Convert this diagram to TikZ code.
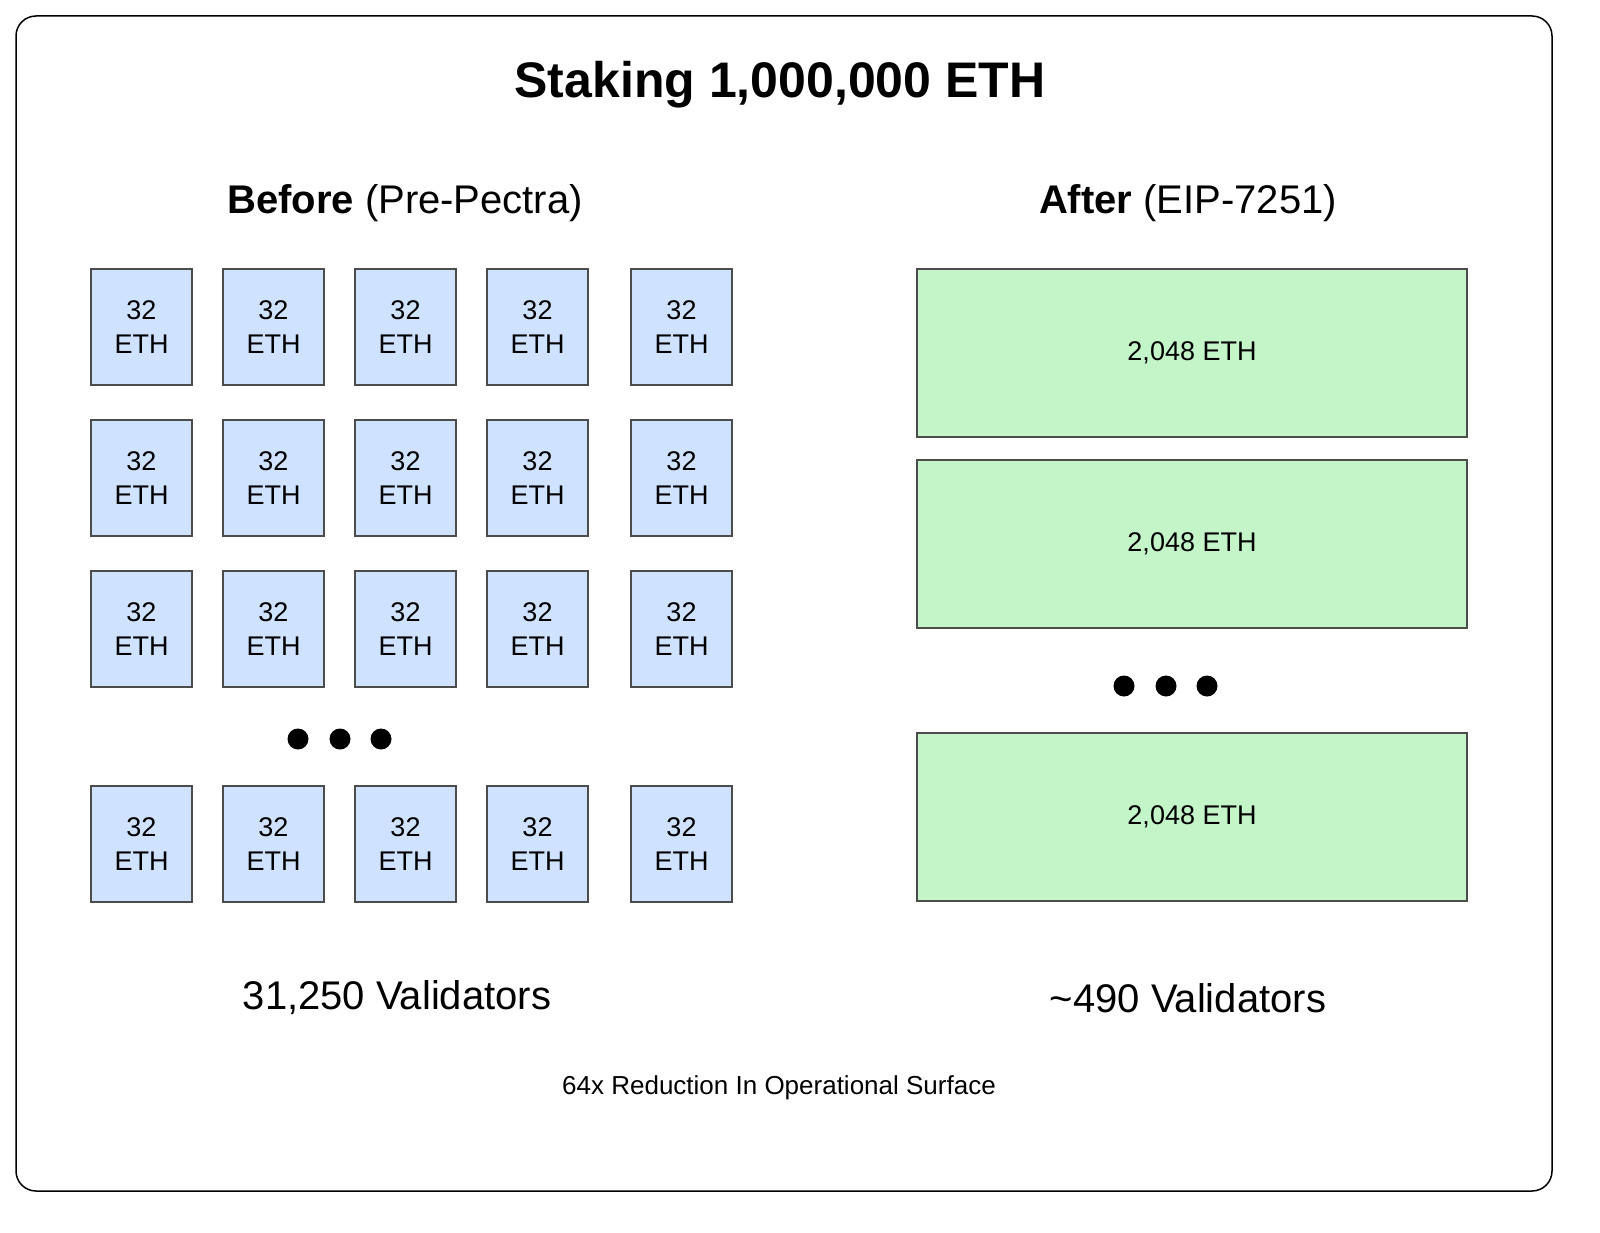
\documentclass[tikz,border=0pt]{standalone}
\usepackage{fontspec}
\setmainfont{Liberation Sans}
\begin{document}
\begin{tikzpicture}[x=1pt,y=-1pt,
  sb/.style={draw=black!70,line width=1.3pt,fill=blueFill,minimum width=101pt,minimum height=116pt,inner sep=0pt,align=center,font=\fontsize{27}{34}\selectfont},
  gb/.style={draw=black!70,line width=1.3pt,fill=greenFill,minimum width=550pt,minimum height=168pt,inner sep=0pt,font=\fontsize{27}{34}\selectfont},
  dot/.style={circle,fill=black,minimum size=21pt,inner sep=0pt},
  hd/.style={font=\fontsize{40}{48}\selectfont}]
\definecolor{blueFill}{HTML}{CFE2FF}
\definecolor{greenFill}{HTML}{C4F5C8}
\useasboundingbox (0,0) rectangle (1600,1233);
\draw[line width=1.5pt,rounded corners=20pt] (16,16) rectangle (1552,1191);
\node[font=\fontsize{50}{60}\selectfont\bfseries] (title) at (780,85) {Staking 1,000,000 ETH};
\node[hd] (before) at (405,203) {\textbf{Before} (Pre-Pectra)};
\node[hd] (after) at (1188,203) {\textbf{After} (EIP-7251)};
\foreach \r/\y in {1/327,2/478,3/629,4/844}
  \foreach \c/\x in {1/141.5,2/273.5,3/405.5,4/537.5,5/681.5}
    \node[sb] (s\r\c) at (\x,\y) {32\\ETH};
\foreach \i/\x in {1/298,2/340,3/381} \node[dot] (ld\i) at (\x,739) {};
\node[gb] (g1) at (1192,353) {2,048 ETH};
\node[gb] (g2) at (1192,544) {2,048 ETH};
\node[gb] (g3) at (1192,817) {2,048 ETH};
\foreach \i/\x in {1/1124,2/1166,3/1207} \node[dot] (rd\i) at (\x,686) {};
\node[hd] (lv) at (397,998) {31,250 Validators};
\node[hd] (rv) at (1188,998) {\textasciitilde 490 Validators};
\node[font=\fontsize{26}{32}\selectfont] (note) at (779,1088) {64x Reduction In Operational Surface};
\end{tikzpicture}
\end{document}
